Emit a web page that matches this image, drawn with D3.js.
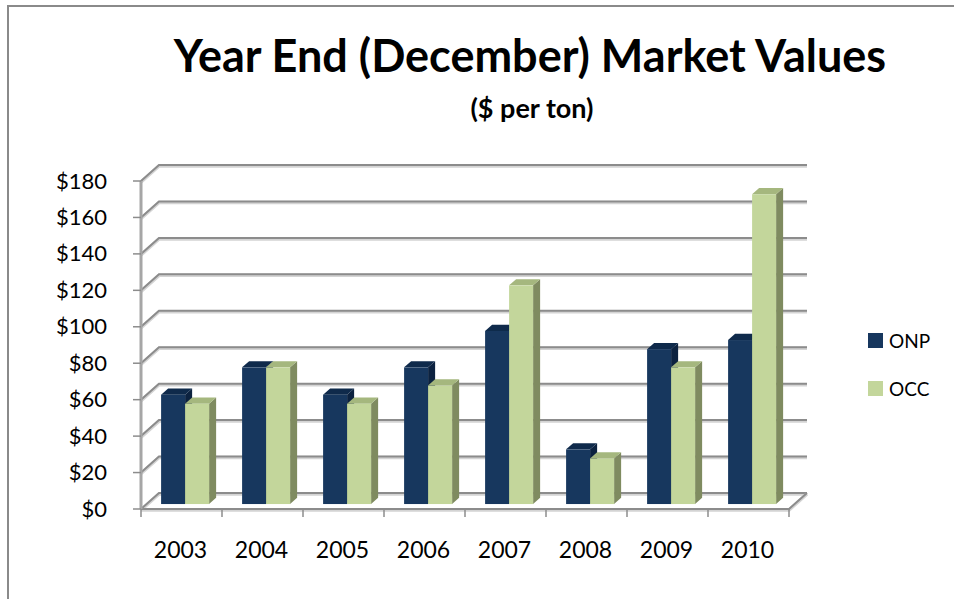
<!DOCTYPE html>
<html>
<head>
<meta charset="utf-8">
<script src="https://cdn.jsdelivr.net/npm/d3@7"></script>
<style>
  body { margin: 0; background: #fff; }
  svg { display: block; font-family: Lato, "Noto Sans", sans-serif; }
</style>
</head>
<body>
<svg id="chart" width="954" height="599"></svg>
<script>
const years = ['2003', '2004', '2005', '2006', '2007', '2008', '2009', '2010'];
const seriesNames = ['ONP', 'OCC'];
const onpValues = [60, 75, 60, 75, 95, 30, 85, 90];
const occValues = [55, 75, 55, 65, 120, 25, 75, 170];
const yTicks = [0, 20, 40, 60, 80, 100, 120, 140, 160, 180];

const colors = {
    ONP: { front: '#17375e', top: '#0f2a4b', side: '#0c2240' },
    OCC: { front: '#c3d69b', top: '#a5b77e', side: '#7f8b60' }
};

const svg = d3.select('#chart');

// plot geometry (front plane origin + depth vector to the back wall)
const x0 = 141, y0 = 509, plotW = 648;
const depth = { dx: 18, dy: -16 };
const barPlane = 0.31, barDepth = 0.39;

const x = d3.scaleBand().domain(years).range([x0, x0 + plotW]);
const xs = d3.scaleBand().domain(seriesNames).range([0, x.bandwidth()])
    .paddingInner(0).paddingOuter(0.6875).align(0.44);
const h = d3.scaleLinear().domain([0, 180]).range([0, 328]);

// outer frame
svg.append('rect')
    .attr('x', 8).attr('y', 6)
    .attr('width', 1000).attr('height', 700)
    .attr('fill', 'none').attr('stroke', '#8a8a8a').attr('stroke-width', 2);

// title
svg.append('text')
    .attr('x', 530).attr('y', 72)
    .attr('text-anchor', 'middle')
    .attr('font-weight', 'bold').attr('font-size', 45)
    .text('Year End (December) Market Values');

svg.append('text')
    .attr('x', 532).attr('y', 118)
    .attr('text-anchor', 'middle')
    .attr('font-weight', 'bold').attr('font-size', 27)
    .text('($ per ton)');

const walls = svg.append('g');

// gridlines on back wall + side wall diagonals
const drawLine = (g, pts) => {
    g.append('path').attr('d', d3.line()(pts.map(p => [p[0], p[1] + 1])))
        .attr('fill', 'none').attr('stroke', '#d4d4d4').attr('stroke-width', 3.5);
    g.append('path').attr('d', d3.line()(pts))
        .attr('fill', 'none').attr('stroke', '#8c8c8c').attr('stroke-width', 2);
};

yTicks.forEach(v => {
    const yy = y0 - h(v);
    drawLine(walls, [
        [x0, yy],
        [x0 + depth.dx, yy + depth.dy],
        [x0 + plotW + depth.dx, yy + depth.dy]
    ]);
});

// floor edges
drawLine(walls, [
    [x0, y0],
    [x0 + plotW, y0],
    [x0 + plotW + depth.dx, y0 + depth.dy]
]);

// front vertical axis
walls.append('line')
    .attr('x1', x0).attr('x2', x0)
    .attr('y1', y0).attr('y2', y0 - h(180))
    .attr('stroke', '#a6a6a6').attr('stroke-width', 3);

// y ticks + labels
yTicks.forEach(v => {
    const yy = y0 - h(v);
    walls.append('line')
        .attr('x1', x0 - 8).attr('x2', x0)
        .attr('y1', yy).attr('y2', yy)
        .attr('stroke', '#8c8c8c').attr('stroke-width', 1.5);
    svg.append('text')
        .attr('x', 107).attr('y', yy + 7.5)
        .attr('text-anchor', 'end')
        .attr('font-size', 22)
        .text('$' + v);
});

// x ticks + labels
d3.range(years.length + 1).forEach(i => {
    const xx = x0 + i * x.step();
    walls.append('line')
        .attr('x1', xx).attr('x2', xx)
        .attr('y1', y0).attr('y2', y0 + 8)
        .attr('stroke', '#8c8c8c').attr('stroke-width', 1.5);
});

years.forEach(yr => {
    svg.append('text')
        .attr('x', x(yr) + x.bandwidth() / 2 - 1).attr('y', 558)
        .attr('text-anchor', 'middle')
        .attr('font-size', 23)
        .text(yr);
});

// 3d bars
const bars = [];
years.forEach((yr, i) => {
    bars.push({ year: yr, series: 'ONP', value: onpValues[i] });
    bars.push({ year: yr, series: 'OCC', value: occValues[i] });
});

const ox = depth.dx * barPlane, oy = depth.dy * barPlane;
const bx = depth.dx * barDepth, by = depth.dy * barDepth;

const barG = svg.append('g').selectAll('g')
    .data(bars)
    .join('g');

barG.each(function(d) {
    const g = d3.select(this);
    const left = x(d.year) + xs(d.series) + ox;
    const right = left + xs.bandwidth();
    const bottom = y0 + oy;
    const top = bottom - h(d.value);
    const c = colors[d.series];

    g.append('polygon')
        .attr('points', [[right, bottom], [right + bx, bottom + by], [right + bx, top + by], [right, top]].join(' '))
        .attr('fill', c.side);
    g.append('polygon')
        .attr('points', [[left, top], [right, top], [right + bx, top + by], [left + bx, top + by]].join(' '))
        .attr('fill', c.top);
    g.append('rect')
        .attr('x', left).attr('y', top)
        .attr('width', xs.bandwidth()).attr('height', h(d.value))
        .attr('fill', c.front);
});

// legend
const legend = svg.append('g');
seriesNames.forEach((s, i) => {
    const ly = 333 + i * 48;
    legend.append('rect')
        .attr('x', 868).attr('y', ly)
        .attr('width', 15).attr('height', 15)
        .attr('fill', colors[s].front);
    legend.append('text')
        .attr('x', 889).attr('y', ly + 15)
        .attr('font-size', 19)
        .text(s);
});
</script>
</body>
</html>
